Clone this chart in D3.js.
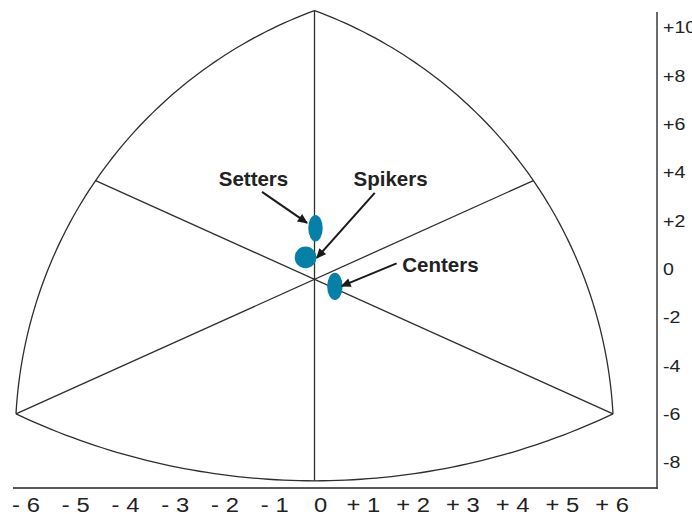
<!DOCTYPE html>
<html><head><meta charset="utf-8">
<script src="https://cdn.jsdelivr.net/npm/d3@7"></script>
<style>body{margin:0;background:#fff}svg{display:block}</style>
</head><body><svg id="c" width="692" height="514"></svg>
<script>
// ---- data ----
const xTicks = [-6, -5, -4, -3, -2, -1, 0, 1, 2, 3, 4, 5, 6];
const yTicks = [10, 8, 6, 4, 2, 0, -2, -4, -6, -8];
// somatochart outline, in chart units
const vertexNames = ["endo", "meso", "ecto"];
const vertexX = [-6, 0, 6];
const vertexY = [-6, 10.7, -6];
// mid-points of the arcs opposite each vertex: bottom, left, right
const arcMidX = [0, -4.4, 4.4];
const arcMidY = [-8.77, 3.66, 3.66];
// group mean somatotypes and spread
const groups = ["Setters", "Spikers", "Centers"];
const groupX = [0.02, -0.18, 0.41];
const groupY = [1.69, 0.48, -0.72];
const spreadX = [0.145, 0.217, 0.155];
const spreadY = [0.55, 0.447, 0.567];

// ---- layout ----
const W = 692, H = 514;
const svg = d3.select("#c");
const x = d3.scaleLinear().domain([-6, 6]).range([16, 613]);
const y = d3.scaleLinear().domain([-8, 10]).range([462.2, 27.5]);
const lineCol = "#2e2e2e", textCol = "#222";
// annotation offsets (px) relative to ellipse centre
const labelOff = [[-62, -42.3], [85, -71.5], [105.5, -14.6]];
const arrowFrom = [[-53.5, -36.3], [69.2, -64.5], [61.7, -23]];
const arrowTo = [[-8.5, -5.3], [11.2, 0.5], [6.7, -0.3]];

const P = i => [x(vertexX[i]), y(vertexY[i])];
const M = i => [x(arcMidX[i]), y(arcMidY[i])];

function arcSamples(a, b, c, n) {
  const d = 2 * (a[0] * (b[1] - c[1]) + b[0] * (c[1] - a[1]) + c[0] * (a[1] - b[1]));
  const A = a[0] * a[0] + a[1] * a[1], B = b[0] * b[0] + b[1] * b[1], C = c[0] * c[0] + c[1] * c[1];
  const ux = (A * (b[1] - c[1]) + B * (c[1] - a[1]) + C * (a[1] - b[1])) / d;
  const uy = (A * (c[0] - b[0]) + B * (a[0] - c[0]) + C * (b[0] - a[0])) / d;
  const r = Math.hypot(a[0] - ux, a[1] - uy);
  const norm = t => ((t % (2 * Math.PI)) + 2 * Math.PI) % (2 * Math.PI);
  const t1 = Math.atan2(a[1] - uy, a[0] - ux);
  const tm = norm(Math.atan2(b[1] - uy, b[0] - ux) - t1);
  const t2 = norm(Math.atan2(c[1] - uy, c[0] - ux) - t1);
  const sweep = tm < t2 ? t2 : t2 - 2 * Math.PI;
  return d3.range(n + 1).map(k => {
    const t = t1 + sweep * k / n;
    return [ux + r * Math.cos(t), uy + r * Math.sin(t)];
  });
}

const line = d3.line();
const outline = svg.append("g").attr("fill", "none").attr("stroke", lineCol).attr("stroke-width", 1.3);
// arcs: bottom (L-R), left (L-T), right (R-T)
[[0, 0, 2], [0, 1, 1], [2, 2, 1]].forEach(([s, m, e]) => {
  outline.append("path").attr("d", line(arcSamples(P(s), M(m), P(e), 80)));
});
// inner lines from each vertex to the opposite arc mid-point
[[1, 0], [0, 2], [2, 1]].forEach(([v, m]) => {
  outline.append("path").attr("d", line([P(v), M(m)]));
});

// axes frame
svg.append("line").attr("x1", 13).attr("x2", 657.5).attr("y1", 488).attr("y2", 488)
  .attr("stroke", "#5a5a5a").attr("stroke-width", 2);
svg.append("line").attr("x1", 657).attr("x2", 657).attr("y1", 12).attr("y2", 489)
  .attr("stroke", "#3a3a3a").attr("stroke-width", 1.5);

// bottom tick labels
const gx = svg.append("g").attr("transform", "translate(0,488)")
  .call(d3.axisBottom(x).tickValues(xTicks).tickSize(0).tickPadding(10.5)
    .tickFormat(v => v < 0 ? "- " + (-v) : v > 0 ? "+ " + v : "0"));
gx.select(".domain").remove();
gx.selectAll("text")
  .attr("font-family", "'Liberation Sans', Arial, sans-serif").attr("font-size", 19.5)
  .attr("fill", textCol).attr("text-anchor", "middle")
  .attr("transform", v => `translate(${v < 0 ? 9.5 : v > 0 ? -1.5 : 5.5},0) scale(1.22,1)`);

// right tick labels
const gy = svg.append("g").attr("transform", "translate(657,0)")
  .call(d3.axisRight(y).tickValues(yTicks).tickSize(0).tickPadding(6)
    .tickFormat(v => v > 0 ? "+" + v : String(v)));
gy.select(".domain").remove();
gy.selectAll("text")
  .attr("font-family", "'Liberation Sans', Arial, sans-serif").attr("font-size", 17)
  .attr("fill", textCol).attr("x", 0).attr("text-anchor", "start")
  .attr("transform", "translate(6,0) scale(1.15,1)");

// arrow marker
svg.append("defs").append("marker").attr("id", "ah")
  .attr("viewBox", "0 -5 10 10").attr("refX", 9).attr("refY", 0)
  .attr("markerUnits", "userSpaceOnUse").attr("markerWidth", 11).attr("markerHeight", 10)
  .attr("orient", "auto")
  .append("path").attr("d", "M0,-4.5L10,0L0,4.5Z").attr("fill", "#1a1a1a");

// groups
const gg = svg.append("g");
groups.forEach((name, i) => {
  const cx = x(groupX[i]), cy = y(groupY[i]);
  gg.append("ellipse").attr("cx", cx).attr("cy", cy)
    .attr("rx", x(spreadX[i]) - x(0)).attr("ry", y(0) - y(spreadY[i]))
    .attr("fill", "#0780a8");
  gg.append("line")
    .attr("x1", cx + arrowFrom[i][0]).attr("y1", cy + arrowFrom[i][1])
    .attr("x2", cx + arrowTo[i][0]).attr("y2", cy + arrowTo[i][1])
    .attr("stroke", "#1a1a1a").attr("stroke-width", 2).attr("marker-end", "url(#ah)");
  gg.append("text").attr("x", cx + labelOff[i][0]).attr("y", cy + labelOff[i][1])
    .attr("text-anchor", "middle")
    .attr("font-family", "'Liberation Sans', Arial, sans-serif").attr("font-weight", "bold")
    .attr("font-size", 20.5).attr("fill", textCol).text(name);
});
</script></body></html>
